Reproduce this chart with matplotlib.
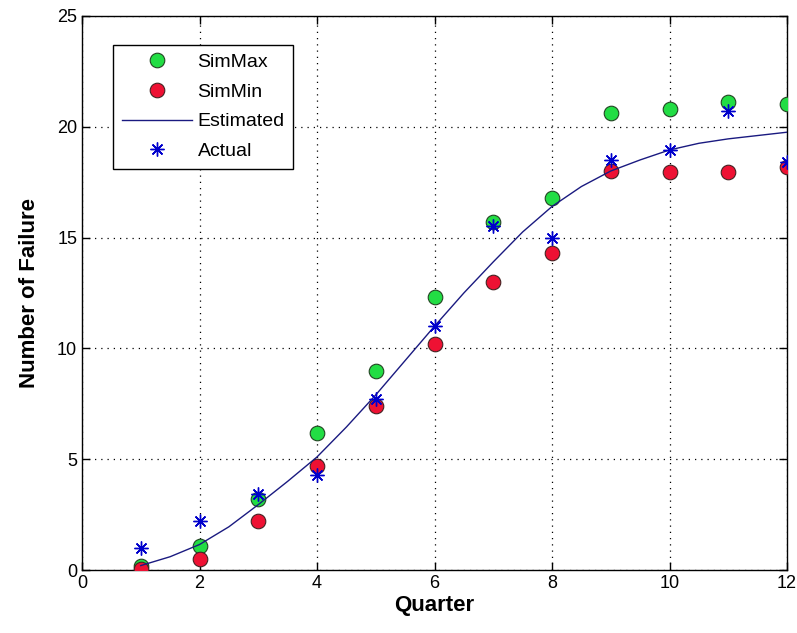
import matplotlib.pyplot as plt

plt.rcParams['font.family'] = ['Liberation Sans', 'DejaVu Sans']

quarters = [1, 2, 3, 4, 5, 6, 7, 8, 9, 10, 11, 12]
sim_max = [0.2, 1.1, 3.2, 6.2, 9.0, 12.3, 15.7, 16.8, 20.6, 20.8, 21.1, 21.0]
sim_min = [0.05, 0.5, 2.2, 4.7, 7.4, 10.2, 13.0, 14.3, 18.0, 17.95, 17.95, 18.2]
actual = [1.0, 2.2, 3.45, 4.3, 7.7, 11.0, 15.5, 15.0, 18.5, 18.95, 20.7, 18.4]

est_x = [1, 1.5, 2, 2.5, 3, 3.5, 4, 4.5, 5, 5.5, 6, 6.5, 7, 7.5, 8, 8.5,
         9, 9.5, 10, 10.5, 11, 11.5, 12]
est_y = [0.2, 0.6, 1.15, 1.95, 2.95, 4.0, 5.1, 6.45, 7.9, 9.45, 11.0, 12.5,
         13.9, 15.25, 16.4, 17.3, 18.0, 18.5, 18.95, 19.25, 19.45, 19.6, 19.75]

fig = plt.figure(figsize=(7.97, 6.33), dpi=100)
ax = fig.add_axes([0.1029, 0.0995, 0.8846, 0.8755])

ax.plot(quarters, sim_max, 'o', color='#22dd44', markeredgecolor='#224422',
        markersize=10.5, markeredgewidth=0.8, label='SimMax', zorder=3)
ax.plot(quarters, sim_min, 'o', color='#ee1133', markeredgecolor='#442222',
        markersize=10.5, markeredgewidth=0.8, label='SimMin', zorder=3)
ax.plot(est_x, est_y, '-', color='#1a1a80', linewidth=1.0, label='Estimated', zorder=4)
ax.plot(quarters, actual, linestyle='none', marker=(8, 2, 0), color='#0000cc',
        markersize=10, markeredgewidth=1.0, label='Actual', zorder=5)

ax.set_xlim(0, 12)
ax.set_ylim(0, 25)
ax.set_xticks(range(0, 13, 2))
ax.set_yticks(range(0, 26, 5))
ax.tick_params(direction='in', top=True, right=True, labelsize=13, length=6, width=1)
ax.grid(True, linestyle=(0, (1, 4)), color='black', linewidth=0.9)
for s in ax.spines.values():
    s.set_linewidth(1.0)

ax.set_xlabel('Quarter', fontsize=16, fontweight='bold', labelpad=2)
ax.set_ylabel('Number of Failure', fontsize=16, fontweight='bold', labelpad=12)

leg = ax.legend(loc='upper left', bbox_to_anchor=(0.044, 0.948), fontsize=14,
                fancybox=False, framealpha=1, edgecolor='black', borderaxespad=0,
                borderpad=0.45, labelspacing=0.62, handlelength=3.6, handletextpad=0.3)
leg.get_frame().set_linewidth(1.0)

fig.savefig('out.png', dpi=100)
